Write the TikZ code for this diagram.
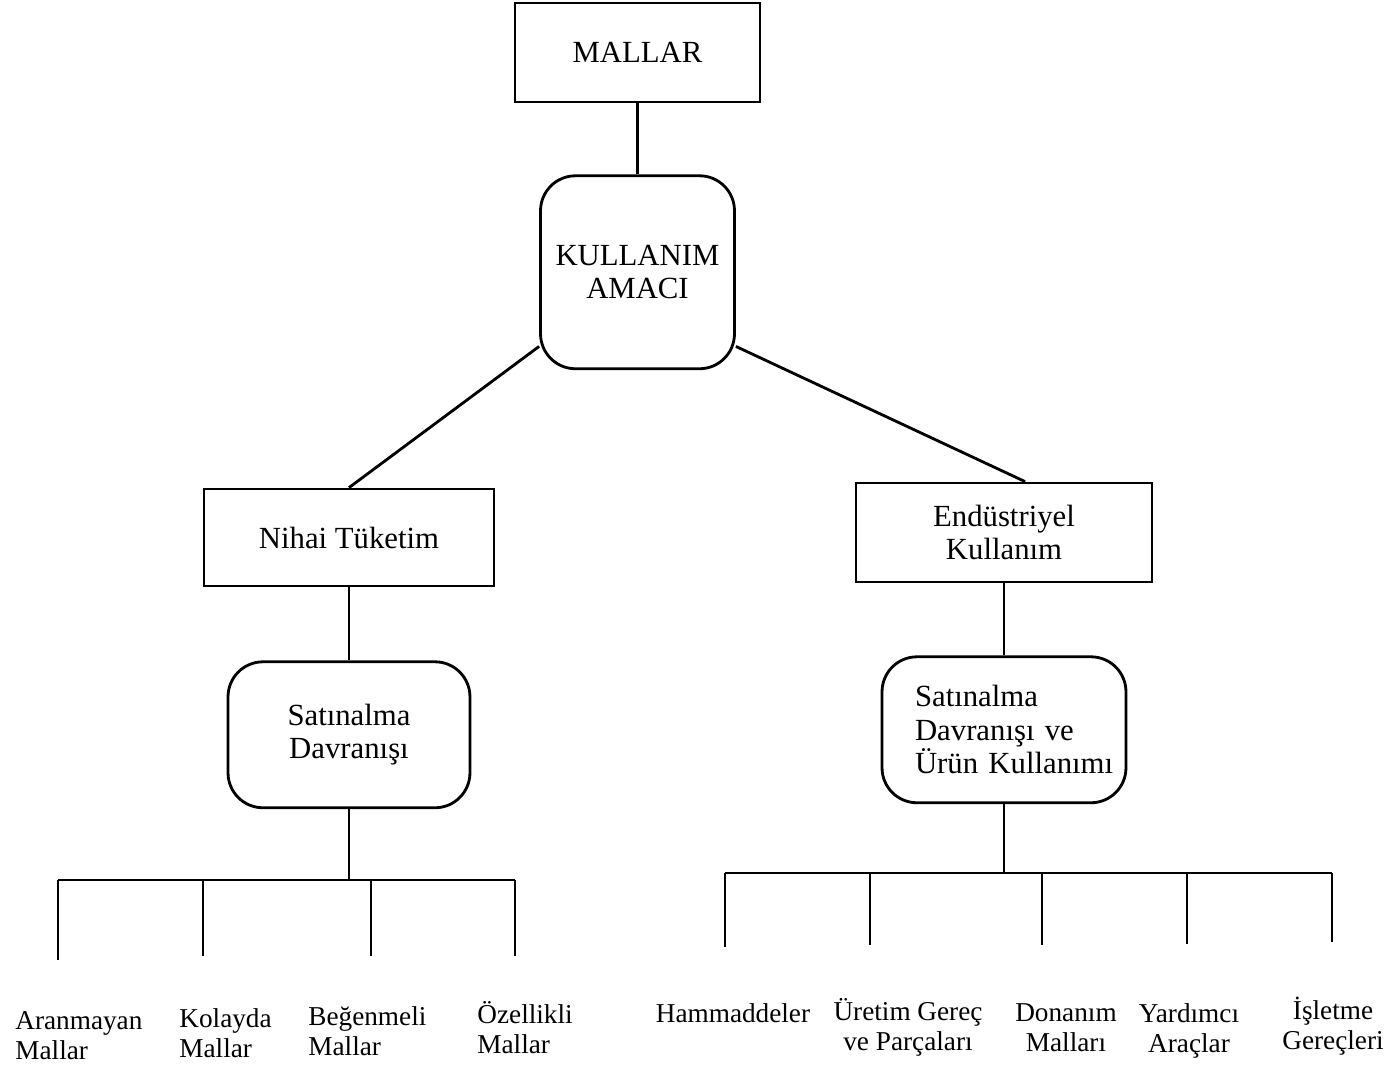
\documentclass[tikz,border=0pt]{standalone}
\usepackage{fontspec}
\setmainfont{Liberation Serif}
\usetikzlibrary{positioning}

\begin{document}
\begin{tikzpicture}[x=0.02cm,y=-0.02cm,line width=1.6pt]
	\tikzstyle{kutu}=[rectangle,draw,font=\fontsize{17.5}{19}\selectfont,align=center]
	\tikzstyle{yuvarlak}=[kutu,rounded corners=0.7cm]
	\tikzstyle{yaprak}=[inner sep=0pt,font=\fontsize{15.5}{17}\selectfont]
	\useasboundingbox (0,0) rectangle (1397,1069);
		\node[kutu, minimum width=4.9cm, minimum height=1.98cm] (mallar) at (637.5,52.5) {MALLAR};
		\node[yuvarlak, minimum width=3.88cm, minimum height=3.86cm] (kullanim) [below=1.42cm of mallar] {KULLANIM\\AMACI};
		\node[kutu, minimum width=5.8cm, minimum height=1.94cm] (nihai) at (349,537.5) {Nihai Tüketim};
		\node[yuvarlak, minimum width=4.84cm, minimum height=2.92cm] (satin1) [below=1.46cm of nihai] {Satınalma\\Davranışı};
		\node[kutu, minimum width=5.92cm, minimum height=1.98cm] (endustriyel) at (1004,532.5) {Endüstriyel\\Kullanım};
		\node[yuvarlak, minimum width=4.88cm, minimum height=2.92cm, align=left, text width=3.56cm, inner xsep=0.66cm] (satin2) [below=1.44cm of endustriyel] {\mbox{Satınalma}\\\mbox{Davranışı ve}\\\mbox{Ürün Kullanımı}};
			\draw (mallar) -- (kullanim);
			\draw (kullanim.217) -- (nihai.north);
			\draw (kullanim.-37) -- ([xshift=12pt]endustriyel.north);
			\draw (nihai) -- (satin1);
			\draw (endustriyel) -- (satin2);
			% nihai tuketim dallari
			\coordinate (solorta) at (349,880);
			\coordinate (sol1) at (58,880);
			\coordinate (sol2) at (203,880);
			\coordinate (sol3) at (371,880);
			\coordinate (sol4) at (515,880);
			\coordinate (sol1alt) at (58,960);
			\coordinate (sol2alt) at (203,956);
			\coordinate (sol3alt) at (371,956);
			\coordinate (sol4alt) at (515,956);
			\draw (satin1) -- (solorta);
			\draw (sol1) -- (sol4);
			\draw (sol1) -- (sol1alt);
			\draw (sol2) -- (sol2alt);
			\draw (sol3) -- (sol3alt);
			\draw (sol4) -- (sol4alt);
			% endustriyel dallari
			\coordinate (sagorta) at (1004,873);
			\coordinate (sag1) at (725,873);
			\coordinate (sag2) at (870,873);
			\coordinate (sag3) at (1042,873);
			\coordinate (sag4) at (1187,873);
			\coordinate (sag5) at (1332,873);
			\coordinate (sag1alt) at (725,947);
			\coordinate (sag2alt) at (870,945);
			\coordinate (sag3alt) at (1042,945);
			\coordinate (sag4alt) at (1187,944);
			\coordinate (sag5alt) at (1332,942);
			\draw (satin2) -- (sagorta);
			\draw (sag1) -- (sag5);
			\draw (sag1) -- (sag1alt);
			\draw (sag2) -- (sag2alt);
			\draw (sag3) -- (sag3alt);
			\draw (sag4) -- (sag4alt);
			\draw (sag5) -- (sag5alt);
			\node[yaprak, align=left, anchor=north west] (aranmayan) at (14,1010) {Aranmayan\\Mallar};
			\node[yaprak, align=left, anchor=north west] (kolayda) at (178,1007) {Kolayda\\Mallar};
			\node[yaprak, align=left, anchor=north west] (begenmeli) at (307,1005) {Beğenmeli\\Mallar};
			\node[yaprak, align=left, anchor=north west] (ozellikli) at (476,1000) {Özellikli\\Mallar};
			\node[yaprak, align=center, anchor=north] (hammadde) at (733,1002) {Hammaddeler};
			\node[yaprak, align=center, anchor=north] (uretim) at (908,997) {Üretim Gereç\\ve Parçaları};
			\node[yaprak, align=center, anchor=north] (donanim) at (1066,1002) {Donanım\\Malları};
			\node[yaprak, align=center, anchor=north] (yardimci) at (1189,1002) {Yardımcı\\Araçlar};
			\node[yaprak, align=center, anchor=north] (isletme) at (1333,996) {İşletme\\Gereçleri};
\end{tikzpicture}
\end{document}
